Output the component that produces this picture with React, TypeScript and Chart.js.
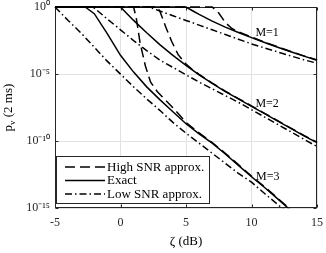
import React, { useEffect, useRef } from 'react';
import { Chart, registerables } from 'chart.js';

Chart.register(...registerables);

// ---- data (zeta in dB, probability p_v) ----
const m1HighX = [-5, 7.0, 7.5, 8, 8.5, 9, 9.5, 10, 11, 12, 13, 14, 15];
const m1High = [1, 1, 0.355, 0.0708, 0.0251, 0.0141, 8.91e-3, 5.75e-3, 2.4e-3, 1.07e-3, 4.9e-4, 2.29e-4, 1.12e-4];
const m1ExactX = [-5, 5.0, 5.5, 6, 7, 8, 9, 10, 11, 12, 13, 14, 15];
const m1Exact = [1, 1, 0.525, 0.282, 0.0891, 0.0316, 0.0126, 5.25e-3, 2.24e-3, 1e-3, 4.68e-4, 2.19e-4, 1.07e-4];
const m1LowX = [-5, 2.2, 3, 4, 5, 6, 7, 8, 9, 10, 11, 12, 13, 14, 15];
const m1Low = [1, 1, 0.501, 0.224, 0.1, 0.0447, 0.02, 8.91e-3, 3.98e-3, 1.78e-3, 8.91e-4, 4.47e-4, 2.24e-4, 1.17e-4, 6.46e-5];

const m2HighX = [-5, 2.8, 3.0, 3.5, 3.9, 4.4, 5.0, 5.5, 6, 7, 8, 9, 10, 11, 12, 13, 14, 15];
const m2High = [1, 1, 0.501, 0.0251, 2.82e-3, 2.82e-4, 5.62e-5, 2.14e-5, 9.55e-6, 2.14e-6, 5.37e-7, 1.51e-7, 4.27e-8, 1.2e-8, 3.39e-9, 9.55e-10, 2.69e-10, 8.51e-11];
const m2ExactX = [-5, 0, 0.5, 1, 2, 3, 4, 5, 6, 7, 8, 9, 10, 11, 12, 13, 14, 15];
const m2Exact = [1, 1, 0.316, 0.1, 0.012, 1.58e-3, 2.51e-4, 4.47e-5, 8.91e-6, 2.0e-6, 5.01e-7, 1.41e-7, 3.98e-8, 1.12e-8, 3.16e-9, 8.91e-10, 2.51e-10, 7.94e-11];
const m2LowX = [-5, -2.1, -1, 0, 1, 2, 3, 4, 5, 6, 7, 8, 9, 10, 11, 12, 13, 14, 15];
const m2Low = [1, 1, 0.126, 0.02, 3.16e-3, 5.62e-4, 1.12e-4, 3.16e-5, 8.91e-6, 2.51e-6, 7.94e-7, 2.51e-7, 7.94e-8, 2.24e-8, 6.31e-9, 1.78e-9, 5.01e-10, 1.41e-10, 3.98e-11];

const m3HighX = [-5, 1.0, 1.2, 1.5, 1.9, 2.3, 2.8, 3.2, 4, 5, 6, 7, 8, 9, 10, 11, 12, 13];
const m3High = [1, 1, 0.158, 2.0e-3, 3.98e-5, 2.51e-6, 5.01e-7, 2.0e-7, 3.16e-8, 2.51e-9, 4.17e-10, 7.94e-11, 1.26e-11, 1.78e-12, 2.51e-13, 3.98e-14, 5.62e-15, 7.94e-16];
const m3ExactX = [-5, -2.7, -2.0, -1, 0, 1, 2, 3, 4, 5, 6, 7, 8, 9, 10, 11, 12, 13];
const m3Exact = [1, 1, 0.316, 0.01, 2.51e-4, 1.41e-5, 1.12e-6, 1.26e-7, 1.58e-8, 2.0e-9, 3.55e-10, 7.08e-11, 1.12e-11, 1.58e-12, 2.24e-13, 3.55e-14, 5.01e-15, 6.76e-16];
const m3LowX = [-5, -4, -3, -2, -1, 0, 1, 2, 3, 4, 5, 6, 7, 8, 9, 10, 11, 12, 13];
const m3Low = [1, 0.1, 0.0112, 1e-3, 8.91e-5, 1e-5, 1.12e-6, 1.41e-7, 2.0e-8, 2.51e-9, 3.98e-10, 7.08e-11, 1.26e-11, 2.24e-12, 3.98e-13, 8.91e-14, 1.26e-14, 1.91e-15, 3.16e-16];

const xTicks = [-5, 0, 5, 10, 15];
const yTickValues = [1e-15, 1e-10, 1e-5, 1];
const yTickLabels = ['10⁻¹⁵', '10⁻¹⁰', '10⁻⁵', '10⁰'];
const legendLabels = ['High SNR approx.', 'Exact', 'Low SNR approx.'];
const curveLabels = ['M=1', 'M=2', 'M=3'];
const curveLabelX = [10.3, 10.3, 10.35];
const curveLabelY = [1.1e-2, 5.8e-8, 2.1e-13];

const FONT = "'Liberation Serif', 'Times New Roman', serif";
const DASHED = [10, 5];
const DASHDOT = [7, 3, 1.5, 3];
const SOLID: number[] = [];
const kindDash = [DASHED, SOLID, DASHDOT];

const pts = (xs: number[], ys: number[]) => xs.map((x, i) => ({ x, y: ys[i] }));

const series = [
  { x: m1HighX, y: m1High, k: 0 },
  { x: m1ExactX, y: m1Exact, k: 1 },
  { x: m1LowX, y: m1Low, k: 2 },
  { x: m2HighX, y: m2High, k: 0 },
  { x: m2ExactX, y: m2Exact, k: 1 },
  { x: m2LowX, y: m2Low, k: 2 },
  { x: m3HighX, y: m3High, k: 0 },
  { x: m3ExactX, y: m3Exact, k: 1 },
  { x: m3LowX, y: m3Low, k: 2 },
];

const decorPlugin = {
  id: 'decor',
  beforeDatasetsDraw(chart: any) {
    const { ctx, chartArea: a, scales } = chart;
    const L = Math.round(a.left) + 0.5;
    const R = Math.round(a.right) - 0.5;
    const T = Math.round(a.top) + 0.5;
    const B = Math.round(a.bottom) - 0.5;
    ctx.save();
    ctx.strokeStyle = '#262626';
    ctx.lineWidth = 1;
    ctx.strokeRect(L, T, R - L, B - T);
    const tl = 3;
    ctx.beginPath();
    xTicks.forEach((v) => {
      const px = Math.round(scales.x.getPixelForValue(v)) + 0.5;
      ctx.moveTo(px, B); ctx.lineTo(px, B - tl);
      ctx.moveTo(px, T); ctx.lineTo(px, T + tl);
    });
    yTickValues.forEach((v) => {
      const py = Math.round(scales.y.getPixelForValue(v)) + 0.5;
      ctx.moveTo(L, py); ctx.lineTo(L + tl, py);
      ctx.moveTo(R, py); ctx.lineTo(R - tl, py);
    });
    ctx.stroke();
    ctx.restore();
  },
  afterDraw(chart: any) {
    const { ctx, chartArea: a, scales } = chart;
    ctx.save();
    // curve labels
    ctx.fillStyle = '#000';
    ctx.font = `12px ${FONT}`;
    ctx.textBaseline = 'middle';
    ctx.textAlign = 'left';
    curveLabels.forEach((t, i) => {
      ctx.fillText(t, scales.x.getPixelForValue(curveLabelX[i]), scales.y.getPixelForValue(curveLabelY[i]));
    });
    // legend
    const bx = Math.round(a.left) + 1.5;
    const bw = 153;
    const bh = 47;
    const by = Math.round(a.bottom) - 4.5 - bh;
    ctx.fillStyle = '#fff';
    ctx.fillRect(bx, by, bw, bh);
    ctx.strokeStyle = '#262626';
    ctx.lineWidth = 1;
    ctx.strokeRect(bx, by, bw, bh);
    legendLabels.forEach((t, i) => {
      const cy = by + 10.5 + i * 13.5;
      ctx.strokeStyle = '#000';
      ctx.lineWidth = 1.5;
      ctx.setLineDash(kindDash[i]);
      ctx.beginPath();
      ctx.moveTo(bx + 8.5, cy);
      ctx.lineTo(bx + 48.5, cy);
      ctx.stroke();
      ctx.setLineDash([]);
      ctx.fillStyle = '#000';
      ctx.font = `13px ${FONT}`;
      ctx.textBaseline = 'middle';
      ctx.fillText(t, bx + 50.5, cy + 0.5);
    });
    // y axis title with subscript
    ctx.translate(9, (a.top + a.bottom) / 2);
    ctx.rotate(-Math.PI / 2);
    ctx.textBaseline = 'middle';
    ctx.textAlign = 'left';
    const big = `13px ${FONT}`;
    const small = `9px ${FONT}`;
    ctx.font = big;
    const wP = ctx.measureText('p').width;
    const rest = ' (2 ms)';
    const wR = ctx.measureText(rest).width;
    ctx.font = small;
    const wV = ctx.measureText('v').width;
    const total = wP + wV + wR;
    let x0 = -total / 2;
    ctx.fillStyle = '#000';
    ctx.font = big;
    ctx.fillText('p', x0, 0);
    x0 += wP;
    ctx.font = small;
    ctx.fillText('v', x0, 4);
    x0 += wV;
    ctx.font = big;
    ctx.fillText(rest, x0, 0);
    ctx.restore();
  },
};

export default function App() {
  const ref = useRef<HTMLCanvasElement>(null);
  useEffect(() => {
    document.body.style.margin = '0';
    const canvas = ref.current!;
    const chart = new Chart(canvas, {
      type: 'line',
      data: {
        datasets: series.map((s, i) => ({
          label: `${curveLabels[Math.floor(i / 3)]} ${legendLabels[s.k]}`,
          data: pts(s.x, s.y),
          borderColor: '#000',
          backgroundColor: '#000',
          borderWidth: 1.5,
          borderDash: kindDash[s.k],
          pointRadius: 0,
          fill: false,
          tension: 0,
          clip: { left: 1, right: 1, top: 2, bottom: 0 },
        })),
      },
      options: {
        responsive: false,
        animation: false,
        devicePixelRatio: 1,
        layout: { padding: { left: 0, right: 9, top: 7, bottom: 0 } },
        plugins: { legend: { display: false }, tooltip: { enabled: false } },
        scales: {
          x: {
            type: 'linear',
            min: -5,
            max: 15,
            afterFit: (s: any) => { s.height = 44.7; s.paddingLeft = 0; s.paddingRight = 0; },
            afterBuildTicks: (s: any) => { s.ticks = xTicks.map((v) => ({ value: v })); },
            ticks: {
              padding: 7,
              color: '#262626',
              maxRotation: 0,
              font: { family: FONT, size: 12 },
              callback: (v: any) => String(v),
            },
            grid: { color: '#e2e2e2', drawTicks: false, lineWidth: 1 },
            border: { display: false },
            title: {
              display: true,
              text: 'ζ (dB)',
              color: '#000',
              font: { family: FONT, size: 13 },
              padding: { top: 0, bottom: 4 },
            },
          },
          y: {
            type: 'logarithmic',
            min: 1e-15,
            max: 1,
            afterFit: (s: any) => { s.width = 55; s.paddingTop = 0; s.paddingBottom = 0; },
            afterBuildTicks: (s: any) => { s.ticks = yTickValues.map((v) => ({ value: v })); },
            ticks: {
              padding: 5,
              color: '#262626',
              font: { family: FONT, size: 12 },
              callback: (_v: any, i: number) => yTickLabels[i],
            },
            grid: { color: '#e2e2e2', drawTicks: false, lineWidth: 1 },
            border: { display: false },
          },
        },
      },
      plugins: [decorPlugin],
    } as any);
    return () => chart.destroy();
  }, []);
  return (
    <div style={{ width: 326, height: 253 }}>
      <canvas ref={ref} width={326} height={253} style={{ width: 326, height: 253, display: 'block' }} />
    </div>
  );
}
